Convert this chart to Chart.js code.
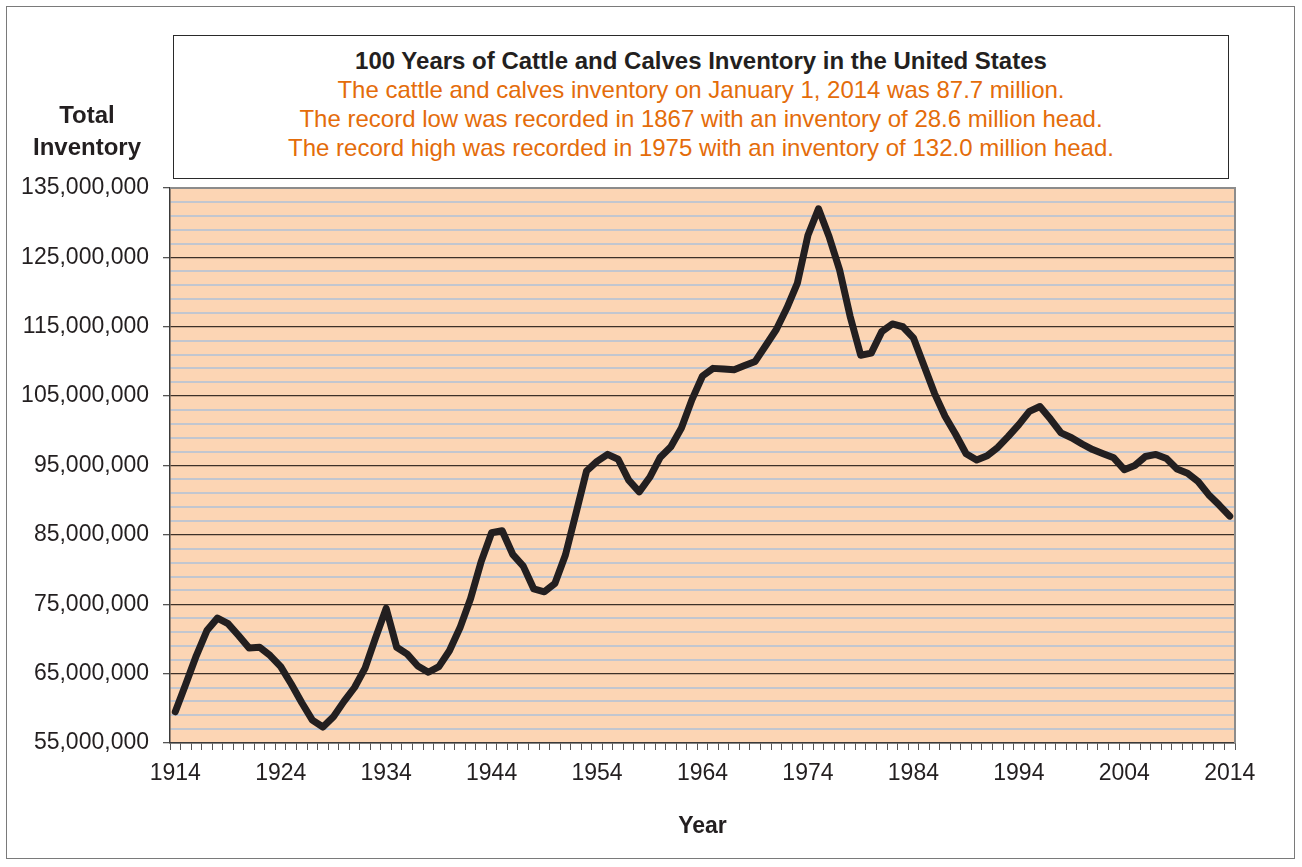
<!DOCTYPE html>
<html>
<head>
<meta charset="utf-8">
<script src="https://cdn.jsdelivr.net/npm/chart.js@4"></script>
<style>
  html, body { margin: 0; padding: 0; background: #fff; }
  body { width: 1302px; height: 867px; position: relative; overflow: hidden; font-family: "Liberation Sans", Arial, sans-serif; }
  #frame { position: absolute; left: 6px; top: 6px; width: 1289px; height: 853px; border: 1.5px solid #7a7a7a; box-sizing: border-box; }
  #chart { position: absolute; left: 0; top: 0; }
  #titleBox { position: absolute; left: 173px; top: 35px; width: 1056px; height: 144px; border: 1.5px solid #2a2a2a; box-sizing: border-box; text-align: center; padding-top: 10px; line-height: 29px; background: #fff; }
  #titleBox .main { font-weight: bold; font-size: 24px; color: #231f20; }
  #titleBox .sub { font-size: 24px; color: #e46c0a; }
  #yTitle { position: absolute; left: 0; top: 99px; width: 174px; text-align: center; font-weight: bold; font-size: 24px; line-height: 32px; color: #231f20; }
</style>
</head>
<body>
<div id="frame"></div>
<canvas id="chart" width="1302" height="867"></canvas>
<div id="titleBox">
  <div class="main">100 Years of Cattle and Calves Inventory in the United States</div>
  <div class="sub">The cattle and calves inventory on January 1, 2014 was 87.7 million.</div>
  <div class="sub">The record low was recorded in 1867 with an inventory of 28.6 million head.</div>
  <div class="sub">The record high was recorded in 1975 with an inventory of 132.0 million head.</div>
</div>
<div id="yTitle">Total<br>Inventory</div>
<script>
// years on the x axis
const years = [
  1914, 1915, 1916, 1917, 1918, 1919, 1920, 1921, 1922, 1923,
  1924, 1925, 1926, 1927, 1928, 1929, 1930, 1931, 1932, 1933,
  1934, 1935, 1936, 1937, 1938, 1939, 1940, 1941, 1942, 1943,
  1944, 1945, 1946, 1947, 1948, 1949, 1950, 1951, 1952, 1953,
  1954, 1955, 1956, 1957, 1958, 1959, 1960, 1961, 1962, 1963,
  1964, 1965, 1966, 1967, 1968, 1969, 1970, 1971, 1972, 1973,
  1974, 1975, 1976, 1977, 1978, 1979, 1980, 1981, 1982, 1983,
  1984, 1985, 1986, 1987, 1988, 1989, 1990, 1991, 1992, 1993,
  1994, 1995, 1996, 1997, 1998, 1999, 2000, 2001, 2002, 2003,
  2004, 2005, 2006, 2007, 2008, 2009, 2010, 2011, 2012, 2013,
  2014
];

// January 1 inventory, million head
const inventoryMillions = [
  59.5, 63.5, 67.6, 71.2, 73.0, 72.2, 70.5, 68.7, 68.8, 67.6,
  66.0, 63.5, 60.8, 58.3, 57.3, 58.8, 61.0, 63.0, 65.8, 70.2,
  74.4, 68.8, 67.8, 66.1, 65.2, 66.0, 68.3, 71.6, 75.8, 81.1,
  85.3, 85.6, 82.2, 80.5, 77.2, 76.8, 78.0, 82.1, 88.1, 94.2,
  95.6, 96.6, 95.9, 92.9, 91.2, 93.3, 96.2, 97.7, 100.4, 104.5,
  107.9, 109.0, 108.9, 108.8, 109.4, 110.0, 112.3, 114.6, 117.7, 121.3,
  128.2, 132.0, 128.0, 123.2, 116.5, 110.9, 111.2, 114.3, 115.4, 115.0,
  113.4, 109.4, 105.4, 102.1, 99.5, 96.7, 95.8, 96.4, 97.6, 99.2,
  100.9, 102.8, 103.5, 101.7, 99.7, 99.0, 98.1, 97.3, 96.7, 96.1,
  94.4, 95.0, 96.3, 96.6, 96.0, 94.5, 93.9, 92.7, 90.8, 89.3,
  87.7
];

const yMin = 55000000;
const yMax = 135000000;
const yMinorStep = 2000000;
const yMajorStep = 10000000;

function isMajor(v) {
  return Math.abs(((v - yMin) % yMajorStep)) < 1;
}

const plotBackground = {
  id: 'plotBackground',
  beforeDraw(chart) {
    const { ctx, chartArea } = chart;
    ctx.save();
    ctx.fillStyle = '#fcd5b4';
    ctx.fillRect(chartArea.left, chartArea.top, chartArea.right - chartArea.left, chartArea.bottom - chartArea.top);
    ctx.restore();
  },
  afterDraw(chart) {
    // gray frame at top and right of the plot area
    const { ctx, chartArea } = chart;
    ctx.save();
    ctx.strokeStyle = '#8c8c8c';
    ctx.lineWidth = 2;
    ctx.beginPath();
    ctx.moveTo(chartArea.left, chartArea.top);
    ctx.lineTo(chartArea.right, chartArea.top);
    ctx.lineTo(chartArea.right, chartArea.bottom);
    ctx.stroke();
    ctx.restore();
  }
};

Chart.defaults.font.family = '"Liberation Sans", Arial, sans-serif';
Chart.defaults.color = '#231f20';

const ctx = document.getElementById('chart').getContext('2d');
new Chart(ctx, {
  type: 'line',
  data: {
    labels: years,
    datasets: [{
      label: 'Cattle and calves inventory',
      data: inventoryMillions.map(v => v * 1000000),
      borderColor: '#231f20',
      backgroundColor: '#231f20',
      borderWidth: 7,
      borderCapStyle: 'round',
      borderJoinStyle: 'round',
      pointRadius: 0,
      tension: 0,
      fill: false
    }]
  },
  options: {
    responsive: false,
    animation: false,
    devicePixelRatio: 1,
    layout: { padding: { left: 0, right: 67, top: 188, bottom: 0 } },
    plugins: {
      legend: { display: false },
      tooltip: { enabled: false }
    },
    scales: {
      x: {
        type: 'category',
        offset: true,
        afterFit(scale) { scale.height = 124; },
        border: { display: true, color: '#3a3a3a', width: 1.5 },
        grid: {
          offset: true,
          drawOnChartArea: false,
          drawTicks: true,
          tickLength: 7,
          tickColor: '#555555'
        },
        ticks: {
          autoSkip: false,
          maxRotation: 0,
          minRotation: 0,
          padding: 10,
          font: { size: 23 },
          color: '#231f20',
          callback(value, index) {
            const y = years[index];
            return (y - years[0]) % 10 === 0 ? String(y) : '';
          }
        },
        title: {
          display: true,
          text: 'Year',
          font: { size: 23, weight: 'bold' },
          color: '#231f20',
          padding: { top: 0, bottom: 27 }
        }
      },
      y: {
        min: yMin,
        max: yMax,
        afterFit(scale) { scale.width = 170; },
        border: { display: true, color: '#3a3a3a', width: 1.5 },
        grid: {
          drawTicks: true,
          tickLength: 7,
          lineWidth: ctx => isMajor(ctx.tick.value) ? 1.3 : 2,
          color: ctx => {
            if (ctx.tick.value === yMax) return '#8c8c8c';
            return isMajor(ctx.tick.value) ? '#3d3028' : '#c2c6cf';
          },
          tickColor: ctx => isMajor(ctx.tick.value) ? '#555555' : 'rgba(0,0,0,0)'
        },
        ticks: {
          stepSize: yMinorStep,
          autoSkip: false,
          maxTicksLimit: 100,
          padding: 14,
          font: { size: 23 },
          color: '#231f20',
          callback(value) {
            return isMajor(value) ? value.toLocaleString('en-US') : '';
          }
        }
      }
    }
  },
  plugins: [plotBackground]
});
</script>
</body>
</html>
